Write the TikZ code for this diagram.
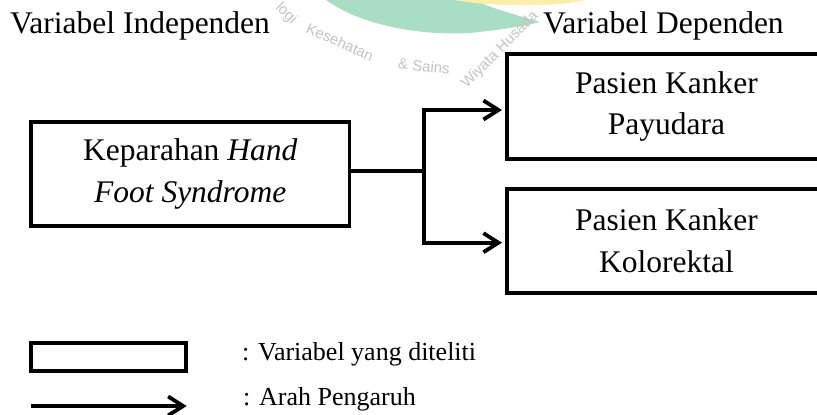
\documentclass[tikz,border=0pt]{standalone}
\usepackage{fontspec}
\setmainfont{Liberation Serif}
\newfontfamily\wmfont{Liberation Sans}
\usetikzlibrary{arrows.meta}
\newcommand\mainsz{\fontsize{31.5pt}{41.5pt}\selectfont}
\newcommand\legsz{\fontsize{26pt}{32pt}\selectfont}
\definecolor{wmgreen}{RGB}{170,222,196}
\definecolor{wmyellow}{RGB}{250,238,170}
\definecolor{wmgray}{RGB}{195,195,195}
\begin{document}
\begin{tikzpicture}[x=1pt,y=-1pt,
  box/.style={draw, fill=white, line width=3.8pt, inner sep=0pt, align=center, font=\mainsz},
  lbl/.style={inner sep=0pt, font=\mainsz},
  leg/.style={inner sep=0pt, font=\legsz},
  wm/.style={inner sep=0pt, text=wmgray, font=\wmfont\fontsize{15pt}{15pt}\selectfont},
  conn/.style={line width=3.8pt},
  arr/.style={line width=3.8pt, -{Straight Barb[length=15pt,width=19pt]}}]
\useasboundingbox (0,0) rectangle (817,415);
\clip (0,0) rectangle (817,415);
% faint watermark
\fill[wmgreen] (326,0) .. controls (360,25) and (420,36) .. (470,33)
  .. controls (500,30) and (525,26) .. (540,22)
  .. controls (520,16) and (490,8) .. (474,0) -- cycle;
\fill[wmyellow] (455,0) .. controls (490,7) and (560,7) .. (585,0) -- cycle;
\node[wm, rotate=-45] (w1) at (286,14) {logi};
\node[wm, rotate=-24] (w2) at (340,42) {Kesehatan};
\node[wm, rotate=-6] (w3) at (424,66) {\& Sains};
\node[wm, rotate=45] (w4) at (500,50) {Wiyata Husada};
% titles
\node[lbl, anchor=base west] (ti) at (10,33) {Variabel Independen};
\node[lbl, anchor=base west] (td) at (543,33) {Variabel Dependen};
% boxes
\node[box, minimum width=318.5pt, minimum height=104.6pt] (l) at (190.25,174)
  {Keparahan \textit{Hand}\\\textit{Foot Syndrome}};
\node[box, minimum width=340pt, minimum height=105.6pt] (r1) at (677,106.5)
  {\hspace*{-21pt}Pasien Kanker\\\hspace*{-21pt}Payudara};
\node[box, minimum width=340pt, minimum height=104pt] (r2) at (677,240.7)
  {\hspace*{-21pt}Pasien Kanker\\\hspace*{-21pt}Kolorektal};
% connectors
\coordinate (j) at (423.7,170.7);
\coordinate (a1) at (502,110);
\coordinate (a2) at (502,242.7);
\draw[conn] (l.east |- j) -- (j);
\draw[arr] (j) |- (a1);
\draw[arr] (j) |- (a2);
% legend
\node[draw, line width=3.8pt, minimum width=155.3pt, minimum height=28.3pt, inner sep=0pt] (lg) at (108.65,357.15) {};
\coordinate (la0) at (30.7,406);
\coordinate (la1) at (186.7,406);
\draw[arr] (la0) -- (la1);
\node[leg, anchor=base west] (lt1) at (242,360) {: Variabel yang diteliti};
\node[leg, anchor=base west] (lt2) at (243,405) {: Arah Pengaruh};
\end{tikzpicture}
\end{document}
